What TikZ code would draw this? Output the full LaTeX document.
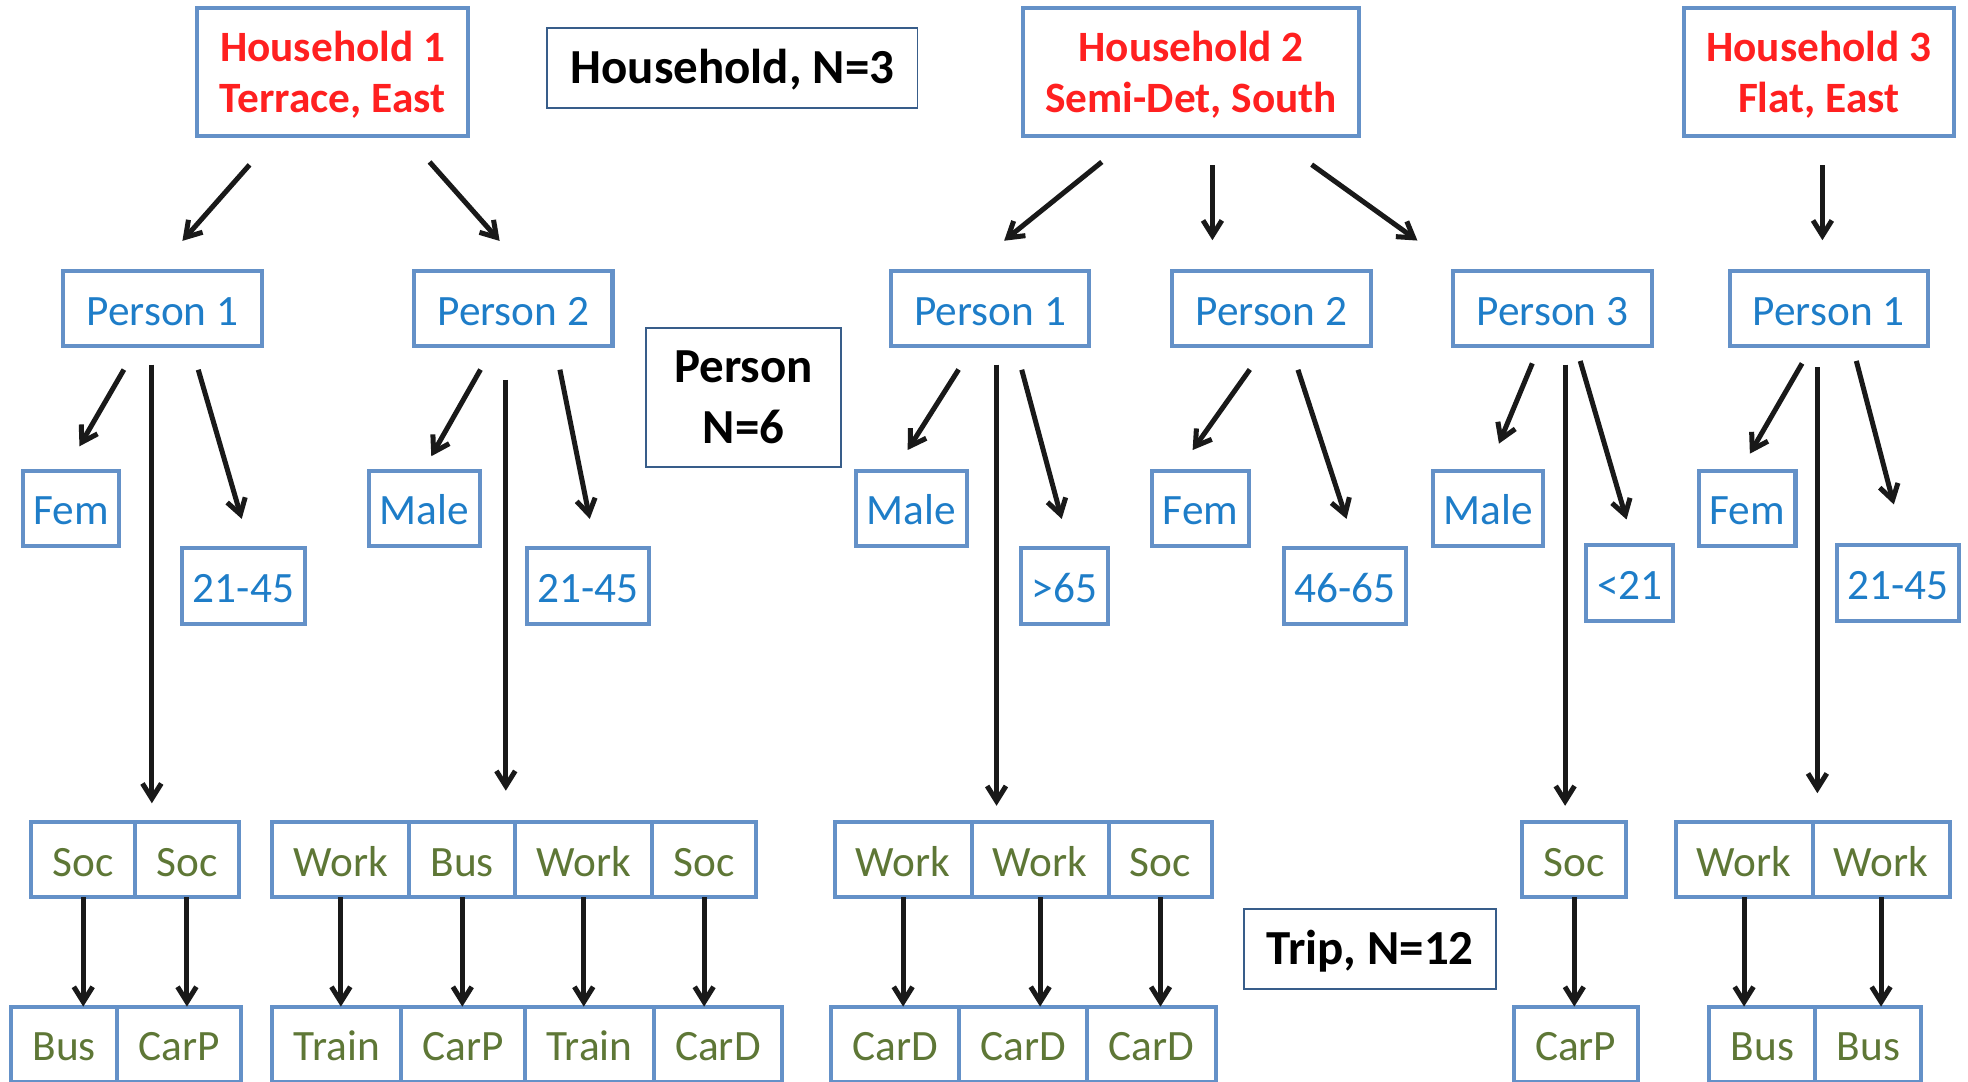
\documentclass[tikz,border=0pt]{standalone}
\usepackage{fontspec}
\setmainfont{Carlito}
\usetikzlibrary{positioning,arrows.meta}
\definecolor{boxblue}{RGB}{100,145,200}
\definecolor{hhred}{RGB}{255,32,32}
\definecolor{attblue}{RGB}{30,125,200}
\definecolor{tripgreen}{RGB}{94,119,54}
\definecolor{nblue}{RGB}{56,93,138}

\begin{document}
\begin{tikzpicture}[x=1pt,y=-1pt,
  hbox/.style={draw=boxblue,line width=3.2pt,text=hhred,font=\bfseries\fontsize{34.5}{41}\selectfont,align=center,minimum height=102pt,inner xsep=18pt,text depth=0pt},
  nbox/.style={draw=nblue,line width=1.5pt,font=\bfseries\fontsize{39}{48}\selectfont,align=center},
  pbox/.style={draw=boxblue,line width=3.2pt,text=attblue,font=\fontsize{34.5}{41}\selectfont,minimum width=158pt,minimum height=60pt,text height=26pt,text depth=0pt},
  abox/.style={draw=boxblue,line width=3.2pt,text=attblue,font=\fontsize{34.5}{41}\selectfont,minimum height=60pt,inner xsep=8.5pt,text height=26pt,text depth=0pt},
  tbox/.style={draw=boxblue,line width=3.2pt,text=tripgreen,font=\fontsize{34.5}{41}\selectfont,minimum height=60pt,inner xsep=17pt,outer sep=0pt,text height=26pt,text depth=0pt},
  arr/.style={-{Straight Barb[length=12pt,width=15pt]},line width=4pt,black!90},
  varr/.style={-{Straight Barb[length=12pt,width=15pt]},line width=4pt,black!90}]
\useasboundingbox (0,0) rectangle (1568,862);

\node[hbox] (h1) at (265,57) {Household 1\\Terrace, East};
\node[hbox] (h2) at (949,57) {Household 2\\Semi-Det, South};
\node[hbox] (h3) at (1449,57) {Household 3\\Flat, East};

\node[nbox,minimum width=295pt,minimum height=64pt,text height=25pt,text depth=0pt] (nh) at (583.5,54) {Household, N=3};
\node[nbox,minimum width=155pt,minimum height=111pt] (np) at (592.5,316.5) {Person\\N=6};
\node[nbox,minimum width=201pt,minimum height=64pt,text height=25pt,text depth=0pt] (nt) at (1091.5,756) {Trip, N=12};

\node[pbox] (p11) at (129.5,246) {Person 1};
\node[pbox] (p12) at (409,246) {Person 2};
\node[pbox] (p21) at (789,246) {Person 1};
\node[pbox] (p22) at (1013,246) {Person 2};
\node[pbox] (p23) at (1237,246) {Person 3};
\node[pbox] (p31) at (1457,246) {Person 1};

\node[abox] (g11) at (56.5,405) {Fem};
\node[abox] (g12) at (338,405) {Male};
\node[abox] (g21) at (726,405) {Male};
\node[abox] (g22) at (956.5,405) {Fem};
\node[abox] (g23) at (1185.5,405) {Male};
\node[abox] (g31) at (1392,405) {Fem};

\node[abox] (a11) at (194,467) {21-45};
\node[abox] (a12) at (468.5,467) {21-45};
\node[abox] (a21) at (848,467) {>65};
\node[abox] (a22) at (1071.5,467) {46-65};
\node[abox] (a23) at (1298.5,464.5) {<21};
\node[abox] (a31) at (1512,464.5) {21-45};

\node[tbox,anchor=west] (t11) at (25,685) {Soc};
\node[tbox,right=0pt of t11] (t12) {Soc};
\node[tbox,anchor=west] (t21) at (217,685) {Work};
\node[tbox,right=0pt of t21] (t22) {Bus};
\node[tbox,right=0pt of t22] (t23) {Work};
\node[tbox,right=0pt of t23] (t24) {Soc};
\node[tbox,anchor=west] (t31) at (665,685) {Work};
\node[tbox,right=0pt of t31] (t32) {Work};
\node[tbox,right=0pt of t32] (t33) {Soc};
\node[tbox,anchor=west] (t41) at (1213,685) {Soc};
\node[tbox,anchor=west] (t51) at (1335,685) {Work};
\node[tbox,right=0pt of t51] (t52) {Work};

\node[tbox,anchor=west] (m11) at (9,832) {Bus};
\node[tbox,right=0pt of m11] (m12) {CarP};
\node[tbox,anchor=west] (m21) at (217,832) {Train};
\node[tbox,right=0pt of m21] (m22) {CarP};
\node[tbox,right=0pt of m22] (m23) {Train};
\node[tbox,right=0pt of m23] (m24) {CarD};
\node[tbox,anchor=west] (m31) at (662,832) {CarD};
\node[tbox,right=0pt of m31] (m32) {CarD};
\node[tbox,right=0pt of m32] (m33) {CarD};
\node[tbox,anchor=west] (m41) at (1206,832) {CarP};
\node[tbox,anchor=west] (m51) at (1362,832) {Bus};
\node[tbox,right=0pt of m51] (m52) {Bus};

\draw[arr,shorten <=29pt,shorten >=30pt] ([xshift=-47pt]h1.south) -- ([xshift=-4pt]p11.north);
\draw[arr,shorten <=26pt,shorten >=30pt] ([xshift=60pt]h1.south) -- ([xshift=9pt]p12.north);
\draw[arr,shorten <=31pt,shorten >=36pt] ([xshift=-47pt]h2.south) -- ([xshift=-17pt]p21.north);
\draw[arr,shorten <=22pt,shorten >=23pt] ([xshift=17pt]h2.south) -- ([xshift=-47pt]p22.north);
\draw[arr,shorten <=37pt,shorten >=39pt] ([xshift=66pt]h2.south) -- ([xshift=-76pt]p23.north);
\draw[arr,shorten <=22pt,shorten >=23pt] ([xshift=3pt]h3.south) -- ([xshift=-5pt]p31.north);

\draw[arr,shorten <=19.5pt,shorten >=20.6pt] ([xshift=-21pt]p11.south) -- ([xshift=-3.5pt]g11.north);
\draw[arr,shorten <=17.7pt,shorten >=22.9pt] ([xshift=23.5pt]p11.south) -- ([xshift=5pt]a11.north);
\draw[varr,shorten <=13pt,shorten >=15pt] ([xshift=-8.5pt]p11.south) -- ([xshift=-8.5pt]p11.south |- t11.north);

\draw[arr,shorten <=19.4pt,shorten >=11.4pt] ([xshift=-16.6pt]p12.south) -- (g12.north);
\draw[arr,shorten <=17.3pt,shorten >=22.4pt] ([xshift=33.7pt]p12.south) -- ([xshift=5.8pt]a12.north);
\draw[varr,shorten <=25pt,shorten >=25pt] ([xshift=-6pt]p12.south) -- ([xshift=-6pt]p12.south |- t21.north);

\draw[arr,shorten <=19.9pt,shorten >=17.6pt] ([xshift=-14.6pt]p21.south) -- ([xshift=-12.2pt]g21.north);
\draw[arr,shorten <=17.6pt,shorten >=22.7pt] ([xshift=20.5pt]p21.south) -- ([xshift=3.8pt]a21.north);
\draw[varr,shorten <=13pt,shorten >=13pt] ([xshift=5pt]p21.south) -- ([xshift=5pt]p21.south |- t31.north);

\draw[arr,shorten <=20.6pt,shorten >=18.2pt] ([xshift=-5.3pt]p22.south) -- ([xshift=-16.8pt]g22.north);
\draw[arr,shorten <=17.9pt,shorten >=23.1pt] ([xshift=15.6pt]p22.south) -- ([xshift=8.5pt]a22.north);

\draw[arr,shorten <=12.9pt,shorten >=21.6pt] ([xshift=-11.2pt]p23.south) -- ([xshift=0.5pt]g23.north);
\draw[arr,shorten <=10.4pt,shorten >=19.8pt] ([xshift=19.1pt]p23.south) -- ([xshift=3pt]a23.north);
\draw[varr,shorten <=13pt,shorten >=13pt] ([xshift=10pt]p23.south) -- ([xshift=10pt]p23.south |- t41.north);

\draw[arr,shorten <=13.8pt,shorten >=13.8pt] ([xshift=-14.3pt]p31.south) -- ([xshift=-4.7pt]g31.north);
\draw[arr,shorten <=10.3pt,shorten >=32pt] ([xshift=19.4pt]p31.south) -- ([xshift=5pt]a31.north);
\draw[varr,shorten <=15pt,shorten >=23pt] ([xshift=-9pt]p31.south) -- ([xshift=-9pt]p31.south |- t51.north);

\draw[varr] (t11.south) -- (t11.south |- m11.north);
\draw[varr] (t12.south) -- (t12.south |- m12.north);
\draw[varr] (t21.south) -- (t21.south |- m21.north);
\draw[varr] (t22.south) -- (t22.south |- m22.north);
\draw[varr] (t23.south) -- (t23.south |- m23.north);
\draw[varr] (t24.south) -- (t24.south |- m24.north);
\draw[varr] (t31.south) -- (t31.south |- m31.north);
\draw[varr] (t32.south) -- (t32.south |- m32.north);
\draw[varr] (t33.south) -- (t33.south |- m33.north);
\draw[varr] (t41.south) -- (t41.south |- m41.north);
\draw[varr] (t51.south) -- (t51.south |- m51.north);
\draw[varr] (t52.south) -- (t52.south |- m52.north);

\end{tikzpicture}
\end{document}
